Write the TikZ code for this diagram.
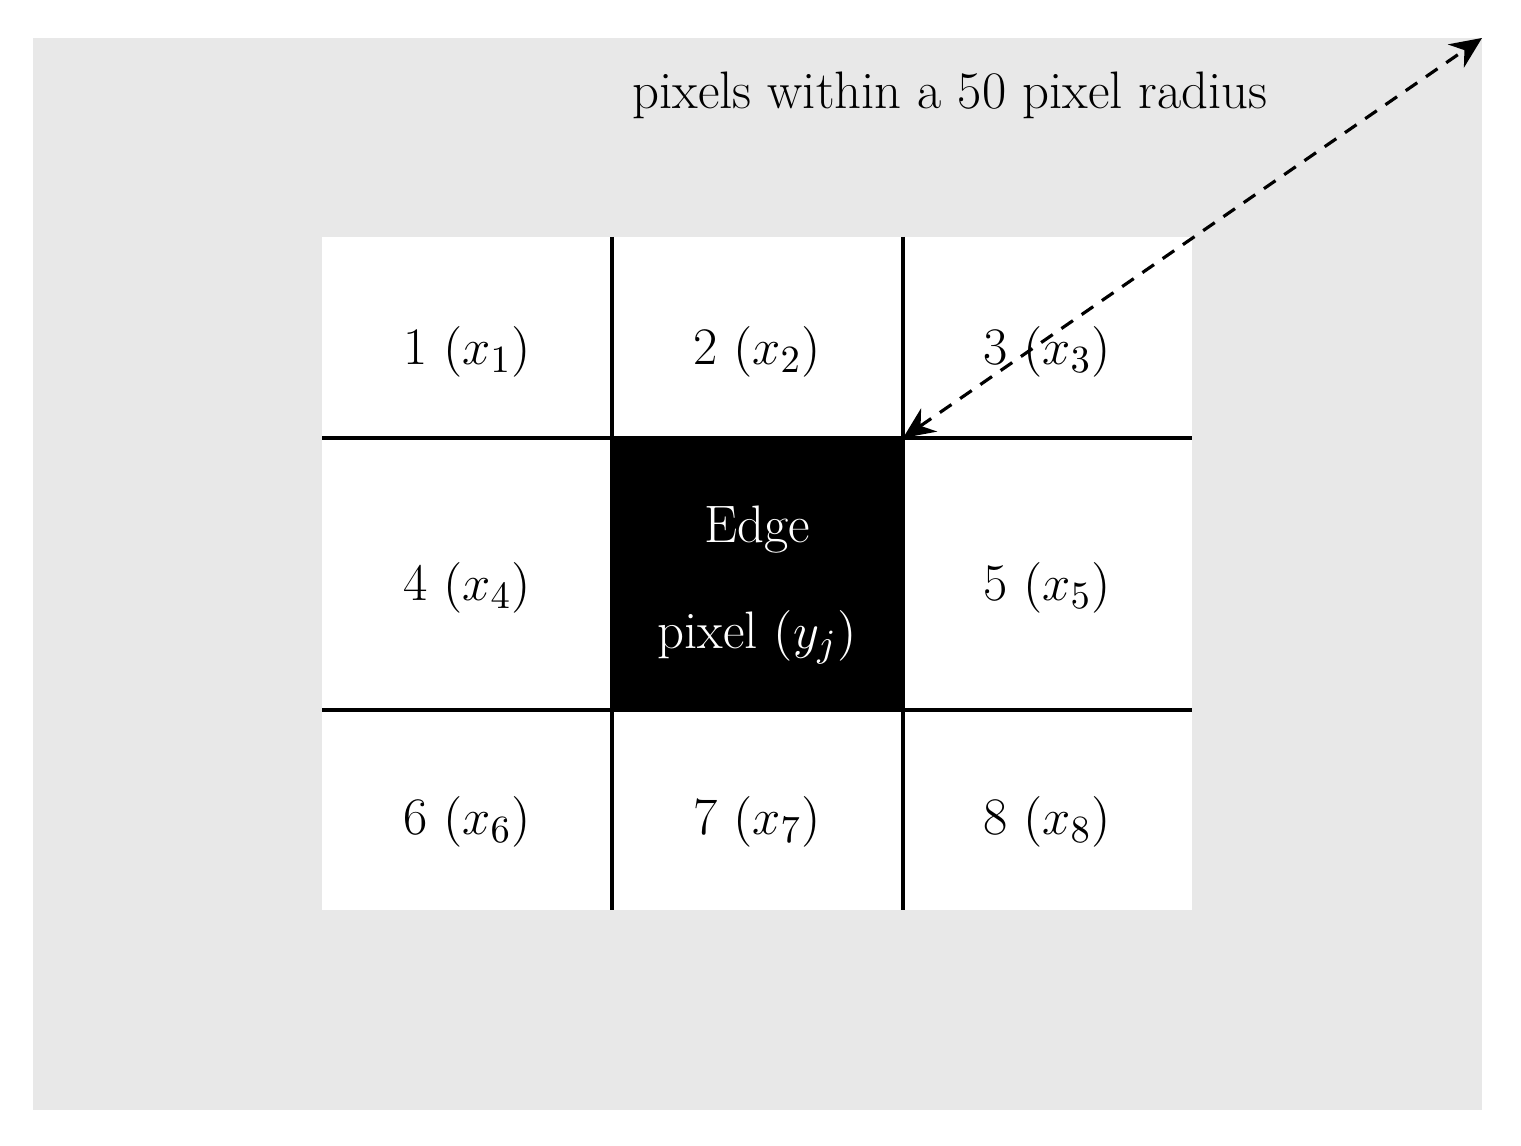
\documentclass[tikz,border=0pt]{standalone}
\usetikzlibrary{arrows.meta}
\begin{document}
\begin{tikzpicture}[x=0.01cm,y=-0.01cm,
  grid/.style={line width=1.1pt},
  lab/.style={font=\fontsize{15}{18}\selectfont, inner sep=0pt},
  dist/.style={line width=0.9pt, dash pattern=on 4pt off 3pt, {Stealth[length=9pt,width=8pt]}-{Stealth[length=9pt,width=8pt]}}]
\useasboundingbox (0,0) rectangle (1521,1146);
\fill[gray!18] (33,38) rectangle (1482,1110);
\fill[white] (322,237) rectangle (1192,910);
\fill[black] (612,438) rectangle (903,710);
\draw[grid] (612,237) -- (612,910);
\draw[grid] (903,237) -- (903,910);
\draw[grid] (322,438) -- (1192,438);
\draw[grid] (322,710) -- (1192,710);
\node[lab] (c1) at (467,352) {1 $(x_1)$};
\node[lab] (c2) at (757,352) {2 $(x_2)$};
\node[lab] (c3) at (1047,352) {3 $(x_3)$};
\node[lab] (c4) at (467,588) {4 $(x_4)$};
\node[lab,white,align=center] (c0) at (757,585) {Edge\\[12pt]pixel $(y_j)$};
\node[lab] (c5) at (1047,588) {5 $(x_5)$};
\node[lab] (c6) at (467,822) {6 $(x_6)$};
\node[lab] (c7) at (757,822) {7 $(x_7)$};
\node[lab] (c8) at (1047,822) {8 $(x_8)$};
\node[lab] (t) at (950,95) {pixels within a 50 pixel radius};
\coordinate (corner) at (903,438);
\coordinate (far) at (1482,38);
\draw[dist] (corner) -- (far);
\end{tikzpicture}
\end{document}
